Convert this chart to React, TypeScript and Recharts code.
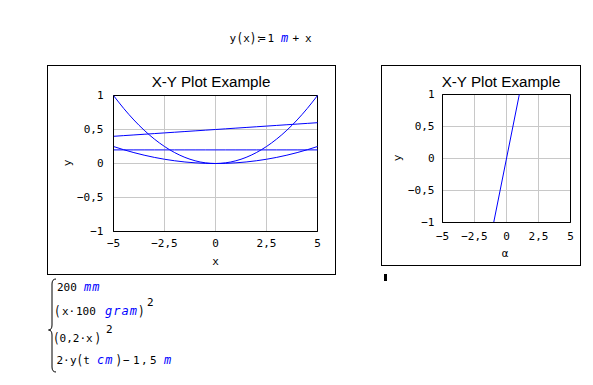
import React from 'react';
import {
  LineChart,
  Line,
  XAxis,
  YAxis,
  CartesianGrid,
  ReferenceArea
} from 'recharts';

// sample positions along x (left plot)
const xSamples = [-5, -4.5, -4, -3.5, -3, -2.5, -2, -1.5, -1, -0.5, 0, 0.5, 1, 1.5, 2, 2.5, 3, 3.5, 4, 4.5, 5];

// 200 mm -> flat line
const lengthValues = [0.2, 0.2, 0.2, 0.2, 0.2, 0.2, 0.2, 0.2, 0.2, 0.2, 0.2, 0.2, 0.2, 0.2, 0.2, 0.2, 0.2, 0.2, 0.2, 0.2, 0.2];
// (x·100 gram)^2
const massValues = [0.25, 0.2025, 0.16, 0.1225, 0.09, 0.0625, 0.04, 0.0225, 0.01, 0.0025, 0, 0.0025, 0.01, 0.0225, 0.04, 0.0625, 0.09, 0.1225, 0.16, 0.2025, 0.25];
// (0,2·x)^2
const squareValues = [1, 0.81, 0.64, 0.49, 0.36, 0.25, 0.16, 0.09, 0.04, 0.01, 0, 0.01, 0.04, 0.09, 0.16, 0.25, 0.36, 0.49, 0.64, 0.81, 1];
// 2·y(t cm) − 1,5 m
const shiftedValues = [0.4, 0.41, 0.42, 0.43, 0.44, 0.45, 0.46, 0.47, 0.48, 0.49, 0.5, 0.51, 0.52, 0.53, 0.54, 0.55, 0.56, 0.57, 0.58, 0.59, 0.6];

// right plot
const alphaSamples = [-1, 1];
const alphaValues = [-1, 1];

const xTicks = [-5, -2.5, 0, 2.5, 5];
const yTicks = [-1, -0.5, 0, 0.5, 1];

const BLUE = '#0000ff';
const MONO = '"DejaVu Sans Mono", monospace';

const toPoints = (xs: number[], ys: number[]) => xs.map((x, i) => ({ x, y: ys[i] }));

const leftSeries = [lengthValues, massValues, squareValues, shiftedValues].map((ys) => toPoints(xSamples, ys));
const rightSeries = [toPoints(alphaSamples, alphaValues)];

const fmt = (v: number) => String(v).replace('.', ',').replace('-', '\u2212');

const tickStyle = { fontSize: 11, fontFamily: MONO, fill: '#000' };

function Plot({ series, width, height, margin, xMargin, yMargin }: any) {
  return (
    <LineChart width={width} height={height} margin={margin}>
      <CartesianGrid stroke="#c8c8c8" />
      <XAxis
        type="number"
        dataKey="x"
        domain={[-5, 5]}
        ticks={xTicks}
        interval={0}
        tickFormatter={fmt}
        tick={tickStyle}
        tickLine={false}
        tickMargin={xMargin}
        axisLine={{ stroke: '#000' }}
        height={38}
      />
      <YAxis
        type="number"
        dataKey="y"
        domain={[-1, 1]}
        ticks={yTicks}
        interval={0}
        tickFormatter={fmt}
        tick={tickStyle}
        tickLine={false}
        tickMargin={yMargin}
        axisLine={{ stroke: '#000' }}
        width={50}
      />
      <ReferenceArea x1={-5} x2={5} y1={-1} y2={1} fill="none" fillOpacity={0} stroke="#000" />
      {series.map((d: any, i: number) => (
        <Line
          key={i}
          data={d}
          dataKey="y"
          type="monotone"
          stroke={BLUE}
          strokeWidth={1}
          dot={false}
          activeDot={false}
          isAnimationActive={false}
        />
      ))}
    </LineChart>
  );
}

// unit text (blue italic)
const Unit = ({ x, y, children }: any) => (
  <text x={x} y={y} fill={BLUE} fontStyle="italic" fontSize={12} letterSpacing={1}>{children}</text>
);
// stretched bracket
const Paren = ({ x, y, children }: any) => (
  <text transform={`translate(${x} ${y + 1}) scale(1 1.35)`}>{children}</text>
);

export default function App() {
  return (
    <div style={{ position: 'absolute', left: 0, top: 0, width: 593, height: 385, background: '#fff', overflow: 'hidden' }}>
      {/* frames */}
      <div style={{ position: 'absolute', left: 47, top: 65, width: 289, height: 210, border: '1px solid #000', boxSizing: 'border-box' }} />
      <div style={{ position: 'absolute', left: 381, top: 65, width: 200, height: 201, border: '1px solid #000', boxSizing: 'border-box' }} />
      <div style={{ position: 'absolute', left: 384, top: 274, width: 3, height: 7, background: '#000' }} />

      <div style={{ position: 'absolute', left: 47, top: 65 }}>
        <Plot
          series={leftSeries}
          width={289}
          height={210}
          margin={{ top: 30.5, right: 18.5, bottom: 5.5, left: 16.5 }}
          xMargin={2}
          yMargin={4}
        />
      </div>
      <div style={{ position: 'absolute', left: 381, top: 65 }}>
        <Plot
          series={rightSeries}
          width={200}
          height={200}
          margin={{ top: 29.5, right: 10.5, bottom: 4.5, left: 11.5 }}
          xMargin={4}
          yMargin={2}
        />
      </div>

      {/* text overlay */}
      <svg width={593} height={385} style={{ position: 'absolute', left: 0, top: 0, pointerEvents: 'none' }}>
        <g fontFamily='"Liberation Sans", Arial, sans-serif' fontSize={15.2} fill="#000" textAnchor="middle">
          <text x={211} y={87}>X-Y Plot Example</text>
          <text x={501} y={87}>X-Y Plot Example</text>
        </g>
        <g fontFamily={MONO} fontSize={11} fill="#000">
          <text x={215.5} y={265} textAnchor="middle">x</text>
          <text x={505} y={257} textAnchor="middle">α</text>
          <text x={70.5} y={163} textAnchor="middle" transform="rotate(-90 70.5 163)">y</text>
          <text x={401} y={158} textAnchor="middle" transform="rotate(-90 401 158)">y</text>
        </g>

        {/* definition y(x) := 1 m + x */}
        <g fontFamily={MONO} fontSize={11} fill="#000">
          <text x={229.5} y={42}>y</text>
          <Paren x={236.5} y={42}>(</Paren>
          <text x={243.2} y={42}>x</text>
          <Paren x={249.8} y={42}>)</Paren>
          <text x={255.5} y={42} letterSpacing={-3}>:=</text>
          <text x={267.5} y={42}>1</text>
          <Unit x={281} y={42}>m</Unit>
          <text x={292.5} y={42}>+</text>
          <text x={305} y={42}>x</text>
        </g>

        {/* piecewise block */}
        <path d="M 56 279 Q 52 279 52 284 L 52 325 Q 52 330 48.5 330 Q 52 330 52 335 L 52 367 Q 52 372 56 372" fill="none" stroke="#000" strokeWidth={1} />
        <g fontFamily={MONO} fontSize={11} fill="#000">
          <text x={57} y={291}>200</text>
          <Unit x={84} y={291}>mm</Unit>

          <Paren x={54} y={315}>(</Paren>
          <text x={62} y={315}>x</text>
          <text x={68.6} y={315}>·</text>
          <text x={76} y={315}>100</text>
          <Unit x={105} y={315}>gram</Unit>
          <Paren x={138} y={315}>)</Paren>
          <text x={147} y={306}>2</text>

          <Paren x={53} y={342}>(</Paren>
          <text x={59.6} y={342}>0,2</text>
          <text x={79.4} y={342}>·</text>
          <text x={86} y={342}>x</text>
          <Paren x={94.5} y={342}>)</Paren>
          <text x={106} y={333}>2</text>

          <text x={56.5} y={364}>2</text>
          <text x={63.1} y={364}>·</text>
          <text x={70} y={364}>y</text>
          <Paren x={76.6} y={364}>(</Paren>
          <text x={83.3} y={364}>t</text>
          <Unit x={97} y={364}>cm</Unit>
          <Paren x={115.5} y={364}>)</Paren>
          <text x={123} y={364}>−</text>
          <text x={133} y={364}>1</text>
          <text x={141} y={364}>,</text>
          <text x={150} y={364}>5</text>
          <Unit x={164} y={364}>m</Unit>
        </g>
      </svg>
    </div>
  );
}
